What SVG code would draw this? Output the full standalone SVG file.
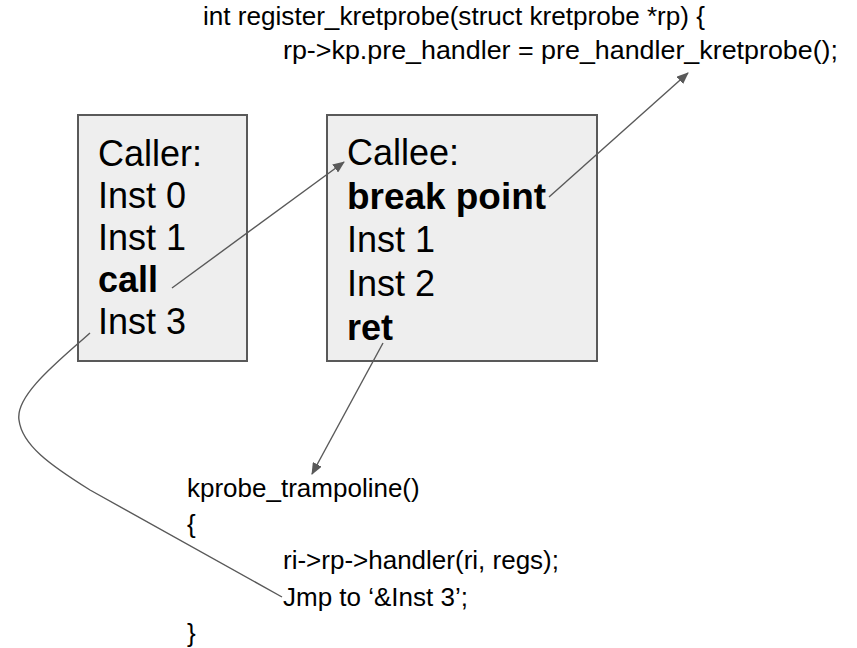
<svg xmlns="http://www.w3.org/2000/svg" width="857" height="648" viewBox="0 0 857 648">
  <style>
    .box { fill: #eeeeee; stroke: #595959; stroke-width: 2; }
    .big { font-family: "Liberation Sans", Arial, sans-serif; font-size: 36px; fill: #000000; }
    .b { font-weight: bold; }
    .code { font-family: "Liberation Sans", Arial, sans-serif; font-size: 26px; fill: #000000; }
    .link { fill: none; stroke: #595959; stroke-width: 1.4; }
  </style>
  <defs>
    <marker id="tip" viewBox="0 0 12 10" refX="11" refY="5" markerWidth="12" markerHeight="10" markerUnits="userSpaceOnUse" orient="auto">
      <path d="M0,0 L12,5 L0,10 z" fill="#595959"/>
    </marker>
  </defs>

  <!-- register_kretprobe source -->
  <g id="register-code">
    <text class="code" x="203" y="25" textLength="502" lengthAdjust="spacingAndGlyphs">int register_kretprobe(struct kretprobe *rp) {</text>
    <text class="code" x="283" y="59" textLength="555" lengthAdjust="spacingAndGlyphs">rp-&gt;kp.pre_handler = pre_handler_kretprobe();</text>
  </g>

  <!-- caller function -->
  <g id="caller">
    <rect class="box" x="78" y="115" width="169" height="246"/>
    <text class="big" x="98" y="166">Caller:</text>
    <text class="big" x="98" y="208">Inst 0</text>
    <text class="big" x="98" y="250">Inst 1</text>
    <text class="big b" x="98" y="292">call</text>
    <text class="big" x="98" y="334">Inst 3</text>
  </g>

  <!-- callee function -->
  <g id="callee">
    <rect class="box" x="327" y="115" width="270" height="246"/>
    <text class="big" x="347" y="165">Callee:</text>
    <text class="big b" x="347" y="209" textLength="199" lengthAdjust="spacingAndGlyphs">break point</text>
    <text class="big" x="347" y="252">Inst 1</text>
    <text class="big" x="347" y="296">Inst 2</text>
    <text class="big b" x="347" y="340">ret</text>
  </g>

  <!-- trampoline source -->
  <g id="trampoline-code">
    <text class="code" x="187" y="497">kprobe_trampoline()</text>
    <text class="code" x="187" y="533">{</text>
    <text class="code" x="283" y="569">ri-&gt;rp-&gt;handler(ri, regs);</text>
    <text class="code" x="283" y="606">Jmp to ‘&amp;Inst 3’;</text>
    <text class="code" x="187" y="642">}</text>
  </g>

  <!-- connectors -->
  <g id="connectors">
    <line class="link" x1="172" y1="288" x2="344" y2="162" marker-end="url(#tip)"/>
    <line class="link" x1="549" y1="197" x2="688" y2="73" marker-end="url(#tip)"/>
    <line class="link" x1="383" y1="343" x2="312" y2="474" marker-end="url(#tip)"/>
    <path class="link" d="M90,333 C60,360 15,395 19,420 C22,445 50,465 90,490 L282,597"/>
  </g>
</svg>
